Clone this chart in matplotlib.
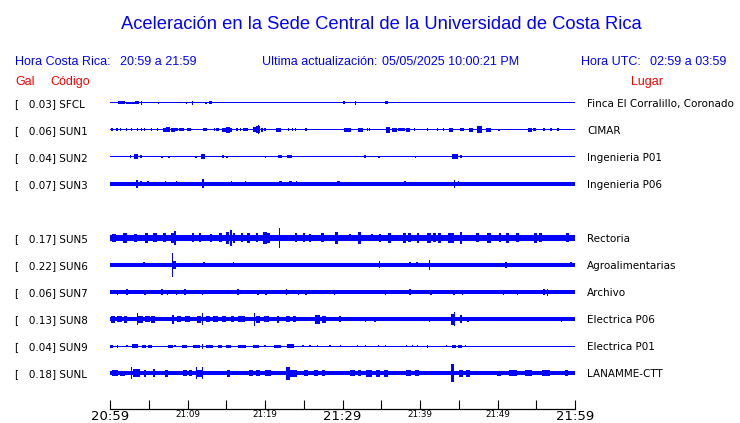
import matplotlib
matplotlib.use("Agg")
import matplotlib.pyplot as plt
import matplotlib.transforms as mtransforms

# Stations, peak acceleration (Gal) and site names
codes = ["SFCL", "SUN1", "SUN2", "SUN3", "SUN5", "SUN6", "SUN7", "SUN8", "SUN9", "SUNL"]
peak_gal = [0.03, 0.06, 0.04, 0.07, 0.17, 0.22, 0.06, 0.13, 0.04, 0.18]
places = ["Finca El Corralillo, Coronado", "CIMAR", "Ingenieria P01", "Ingenieria P06",
          "Rectoria", "Agroalimentarias", "Archivo", "Electrica P06", "Electrica P01",
          "LANAMME-CTT"]

# Time axis: minutes after 20:59 (local time)
tick_minutes = list(range(0, 61, 5))
tick_labels = ["20:59", "", "21:09", "", "21:19", "", "21:29", "", "21:39", "", "21:49", "", "21:59"]

# Background noise half-width of each trace (trace units, 1 unit = 1 px)
base_amp = [0.5, 0.5, 0.5, 1.7, 3.0, 1.6, 1.7, 2.2, 0.5, 2.2]

# Bursts: (minute, half amplitude, duration in minutes)
sfcl_events = [(1.5, 1.5, 0.9), (2.6, 1.2, 1.2), (3.5, 1.5, 0.6), (4.1, 2, 0.16),
               (6.3, 1.2, 0.16), (9.9, 1.2, 0.16), (10.6, 2, 0.16), (12.4, 1.2, 0.16),
               (13.0, 1.5, 0.4), (30.2, 1.5, 0.3), (31.7, 2, 0.16), (35.7, 1.5, 0.4)]
sun1_events = [(0.26, 1.5, 0.16), (0.9, 1.5, 0.16), (1.4, 1.5, 0.16), (2.1, 1.5, 0.16),
               (2.8, 1.5, 0.16), (3.5, 1.5, 0.16), (4.1, 1.5, 0.16), (4.5, 1.5, 0.16),
               (5.4, 1.5, 0.16), (6.1, 1.5, 0.16), (7.0, 2, 0.4), (7.5, 2.5, 0.5),
               (8.1, 2, 0.5), (8.6, 1.5, 0.3), (9.2, 1.5, 0.7), (10.2, 1.5, 0.5),
               (12.3, 1.5, 0.5), (13.5, 1.5, 0.16), (13.9, 1.5, 0.4), (14.7, 2, 0.5),
               (15.2, 3, 0.5), (15.6, 2, 0.3), (16.4, 1.5, 0.16), (16.8, 1.5, 0.16),
               (17.5, 1.5, 0.6), (18.6, 2.5, 0.4), (19.1, 3.5, 0.5), (19.2, 4.5, 0.16),
               (19.6, 2, 0.3), (20.0, 1.5, 0.16), (21.7, 2, 0.6), (23.0, 1.5, 0.16),
               (23.5, 1.5, 0.16), (23.9, 1.5, 0.16), (25.3, 1.5, 0.16), (30.6, 2, 0.9),
               (32.3, 2, 0.6), (33.2, 1.5, 0.16), (33.5, 1.5, 0.16), (35.9, 3, 0.5),
               (36.7, 2, 0.6), (37.6, 1.5, 0.8), (38.5, 2, 0.5), (39.3, 1.5, 0.16),
               (41.0, 1.5, 0.16), (42.3, 1.5, 0.16), (43.0, 1.5, 0.16), (44.0, 2, 0.6),
               (45.4, 1.5, 0.6), (46.6, 2, 0.6), (47.7, 3.5, 0.6), (48.8, 2, 0.6),
               (50.2, 1, 0.16), (54.2, 2, 0.5), (54.8, 1.5, 0.4), (56.0, 1.5, 0.16),
               (56.9, 1.5, 0.16), (57.8, 1.5, 0.16)]
sun2_events = [(2.6, 1.5, 0.16), (3.4, 2.5, 0.5), (4.0, 1.5, 0.3), (6.7, 1.2, 0.16),
               (7.6, 1.2, 0.16), (11.1, 1.2, 0.16), (12.0, 2.5, 0.4), (14.6, 1.5, 0.3),
               (15.1, 1.2, 0.16), (20.1, 1.2, 0.16), (21.9, 1.5, 0.5), (23.2, 1.5, 0.6),
               (32.9, 1.5, 0.16), (34.7, 1, 0.16), (39.4, 1, 0.16), (44.5, 2.5, 0.8),
               (45.3, 1.5, 0.16)]
sun3_events = [(3.5, 4, 0.2), (4.0, 2.5, 0.16), (4.9, 2.5, 0.16), (7.2, 2.5, 0.16),
               (8.6, 2.5, 0.16), (12.0, 4.5, 0.3), (15.7, 2.5, 0.16), (17.5, 2.5, 0.2),
               (22.0, 2.5, 0.4), (23.3, 2.5, 0.4), (24.1, 2.5, 0.16), (29.5, 2.5, 0.3),
               (38.1, 2.5, 0.3), (39.0, 2, 0.16), (44.5, 4, 0.16), (45.0, 2.5, 0.16)]
sun5_events = [(0.5, 4, 0.5), (1.9, 5, 0.5), (3.3, 4, 0.4), (4.7, 5, 0.4), (5.8, 4.5, 0.4),
               (7.0, 4.5, 0.4), (8.1, 5, 0.4), (8.4, 7, 0.16), (10.7, 4.5, 0.3),
               (11.6, 4.5, 0.3), (13.0, 4, 0.3), (14.2, 4.5, 0.4), (15.2, 6, 0.4),
               (15.6, 8, 0.3), (16.0, 5, 0.3), (17.0, 4.5, 0.3), (17.9, 5, 0.4),
               (19.0, 4.5, 0.3), (20.0, 6, 0.4), (20.5, 5, 0.4), (21.9, 10, 0.16),
               (24.0, 4.5, 0.3), (25.0, 4.5, 0.3), (25.8, 4, 0.3), (27.4, 4.5, 0.3),
               (29.2, 6, 0.4), (31.0, 3.5, 0.3), (32.2, 6, 0.4), (33.8, 3.5, 0.3),
               (34.8, 4, 0.3), (36.1, 5, 0.4), (38.0, 5, 0.4), (38.6, 4.5, 0.4),
               (39.7, 5, 0.3), (41.2, 5, 0.5), (41.9, 4.5, 0.4), (42.5, 5, 0.4),
               (44.0, 5, 0.8), (45.3, 6, 0.2), (47.4, 4.5, 0.4), (48.9, 5, 0.4),
               (50.3, 4.5, 0.3), (51.3, 5, 0.4), (52.6, 4.5, 0.3), (54.9, 5, 0.4),
               (55.5, 4.5, 0.4), (59.0, 4.5, 0.4)]
sun6_events = [(4.4, 2.5, 0.16), (8.1, 12, 0.16), (8.3, 4, 0.4), (12.1, 2.5, 0.3),
               (15.9, 2.5, 0.16), (17.0, 2, 0.16), (18.1, 2, 0.16), (34.8, 3.5, 0.16),
               (38.7, 2.5, 0.16), (39.6, 2.5, 0.16), (41.2, 5, 0.16), (51.1, 3, 0.2),
               (59.5, 2.5, 0.2)]
sun7_events = [(1.0, 2.5, 0.16), (2.2, 3, 0.2), (4.5, 2.5, 0.2), (6.7, 3, 0.16),
               (7.4, 2.5, 0.16), (8.6, 2.5, 0.2), (9.7, 3, 0.2), (11.9, 2.5, 0.16),
               (16.5, 3, 0.2), (19.1, 2.5, 0.16), (20.1, 2.5, 0.2), (22.8, 3, 0.16),
               (24.3, 2.5, 0.16), (25.3, 2.5, 0.16), (29.0, 2.5, 0.16), (35.5, 2.5, 0.16),
               (38.7, 3, 0.2), (41.4, 2.5, 0.2), (44.4, 2.5, 0.2), (45.5, 2.5, 0.2),
               (50.8, 2.5, 0.2), (52.6, 2.5, 0.16), (56.0, 3, 0.2), (56.5, 3.5, 0.16)]
sun8_events = [(0.4, 3.5, 0.6), (1.2, 3, 0.6), (2.0, 3.5, 0.5), (3.5, 6, 0.16),
               (3.9, 3.5, 0.6), (4.8, 3, 0.6), (5.6, 3.5, 0.5), (8.1, 4.5, 0.2),
               (8.9, 3, 0.6), (10.0, 3, 0.6), (11.5, 3.5, 0.6), (11.9, 6, 0.16),
               (12.6, 3, 0.5), (13.6, 3, 0.6), (14.7, 3, 0.6), (15.8, 3, 0.5),
               (17.0, 3, 0.9), (18.6, 6.5, 0.16), (19.1, 3.5, 0.6), (20.2, 3, 0.6),
               (21.7, 3.5, 0.2), (23.0, 3, 0.5), (23.8, 3, 0.5), (26.8, 4.5, 0.6),
               (27.6, 3.5, 0.6), (29.7, 3, 0.2), (33.0, 2.5, 0.16), (34.2, 2.5, 0.16),
               (41.2, 2.5, 0.16), (44.3, 5.5, 0.5), (44.5, 7, 0.16), (45.3, 4, 0.2),
               (46.2, 2.5, 0.16), (58.3, 2.5, 0.16)]
sun9_events = [(0.2, 1.5, 0.4), (1.0, 1.5, 0.16), (2.2, 1.2, 0.16), (3.2, 2, 0.8),
               (4.4, 1.5, 0.5), (5.2, 1.5, 0.5), (7.8, 1.5, 0.6), (8.4, 1, 0.16),
               (9.6, 1.5, 0.6), (11.2, 1.5, 0.9), (11.9, 2.5, 0.16), (12.9, 1.5, 0.9),
               (14.2, 1.5, 0.6), (15.3, 1.5, 0.6), (17.0, 1.5, 1.0), (18.8, 1.5, 0.8),
               (20.0, 1.2, 0.16), (21.6, 1.5, 0.8), (23.3, 2, 0.9), (24.9, 1.2, 0.16),
               (25.8, 1.2, 0.16), (26.8, 1.2, 0.16), (28.4, 1.2, 0.16), (29.7, 1.2, 0.16),
               (31.9, 1, 0.16), (33.0, 1.2, 0.16), (34.6, 1, 0.16), (35.5, 1, 0.16),
               (38.3, 1.2, 0.16), (39.0, 1.2, 0.16), (39.7, 1.2, 0.16), (41.0, 1.5, 0.16),
               (43.4, 1, 0.16), (44.4, 1.5, 0.6), (45.2, 1.5, 0.5), (45.9, 1, 0.16)]
sunl_events = [(0.6, 2.8, 0.8), (1.6, 2.5, 0.6), (2.8, 6, 0.2), (3.4, 4, 0.9),
               (4.5, 3.5, 0.2), (5.7, 4, 0.2), (7.3, 3.5, 0.4), (9.7, 3, 0.5),
               (10.4, 2.8, 0.3), (11.2, 6, 0.16), (11.9, 6, 0.16), (11.6, 3.5, 0.8),
               (15.3, 3.5, 0.4), (18.2, 2.8, 0.6), (19.1, 2.8, 0.5), (20.4, 3, 0.8),
               (23.0, 6.5, 0.5), (23.7, 3.5, 0.9), (25.3, 2.7, 0.5), (26.6, 2.7, 0.6),
               (27.6, 2.7, 0.4), (31.3, 2.7, 0.6), (32.2, 2.7, 0.5), (33.4, 3.5, 0.7),
               (34.6, 3.5, 0.5), (35.6, 3.5, 0.6), (38.5, 2.7, 0.6), (39.6, 2.7, 0.6),
               (44.2, 9, 0.4), (45.3, 3.5, 0.6), (46.2, 3.5, 0.5), (48.8, 2.3, 0.6),
               (50.2, 2.5, 0.5), (52.0, 2.7, 1.0), (54.0, 2.7, 0.8), (56.3, 2.7, 1.0),
               (58.9, 2.7, 0.5)]
events = [sfcl_events, sun1_events, sun2_events, sun3_events, sun5_events,
          sun6_events, sun7_events, sun8_events, sun9_events, sunl_events]

BLUE = "#0000ff"
RED = "#ff0000"
W, H = 740, 423
ROW_PX = 27.0  # pixels between traces
slots = [0, 1, 2, 3, 5, 6, 7, 8, 9, 10]  # slot 4 (SUN4) is left empty


def fpos(x, y):
    # figure fraction from pixel position (origin top-left)
    return x / W, 1 - y / H


fig = plt.figure(figsize=(W / 100, H / 100), dpi=100)
ax = fig.add_axes([110 / W, 14 / H, 465 / W, 319 / H])
ax.set_xlim(0, 60)
ax.set_ylim(11.333, -0.481)

# Traces: background band plus bursts
for slot, b, ev in zip(slots, base_amp, events):
    ax.barh(slot, 60, height=2 * b / ROW_PX, left=0, color=BLUE, linewidth=0, antialiased=False)
    t = [e[0] for e in ev]
    a = [e[1] / ROW_PX for e in ev]
    w = [e[2] for e in ev]
    ax.bar(t, [2 * v for v in a], bottom=[slot - v for v in a], width=w,
           color=BLUE, linewidth=0, antialiased=False)

# Axis styling
for side in ["top", "left", "right"]:
    ax.spines[side].set_visible(False)
ax.spines["bottom"].set_linewidth(0.9)
ax.set_yticks([])
ax.set_xticks(tick_minutes)
ax.set_xticklabels(tick_labels, family="DejaVu Sans")
ax.tick_params(axis="x", direction="in", length=6.5, width=0.8, pad=0.8)
for lab in ax.get_xticklabels():
    lab.set_fontsize(9.5 if lab.get_text() in ("20:59", "21:29", "21:59") else 6.3)
ax.patch.set_alpha(0)

# Row labels
trans = mtransforms.blended_transform_factory(fig.transFigure, ax.transData)
for slot, g, code, place in zip(slots, peak_gal, codes, places):
    y = slot + 3.7 / ROW_PX
    ax.text(15 / W, y, f"[   {g:.2f}] {code}", transform=trans, fontsize=7.5,
            family="DejaVu Sans", va="baseline", ha="left")
    ax.text(587 / W, y, place, transform=trans, fontsize=7.5,
            family="DejaVu Sans", va="baseline", ha="left")

# Header
hdr = dict(family="Liberation Sans", va="baseline")
fig.text(*fpos(381, 29), "Aceleración en la Sede Central de la Universidad de Costa Rica",
         ha="center", color=BLUE, fontsize=13.2, **hdr)
fig.text(*fpos(15, 65), "Hora Costa Rica:", color=BLUE, fontsize=9, **hdr)
fig.text(*fpos(120, 65), "20:59 a 21:59", color=BLUE, fontsize=9, **hdr)
fig.text(*fpos(262, 65), "Ultima actualización:", color=BLUE, fontsize=9, **hdr)
fig.text(*fpos(382, 65), "05/05/2025 10:00:21 PM", color=BLUE, fontsize=9, **hdr)
fig.text(*fpos(581, 65), "Hora UTC:", color=BLUE, fontsize=9, **hdr)
fig.text(*fpos(650, 65), "02:59 a 03:59", color=BLUE, fontsize=9, **hdr)
fig.text(*fpos(15, 85), "Gal", color=RED, fontsize=9, **hdr)
fig.text(*fpos(50, 85), "Código", color=RED, fontsize=9, **hdr)
fig.text(*fpos(631, 85), "Lugar", color=RED, fontsize=9, **hdr)

fig.savefig("out.png", dpi=100, facecolor="white")
